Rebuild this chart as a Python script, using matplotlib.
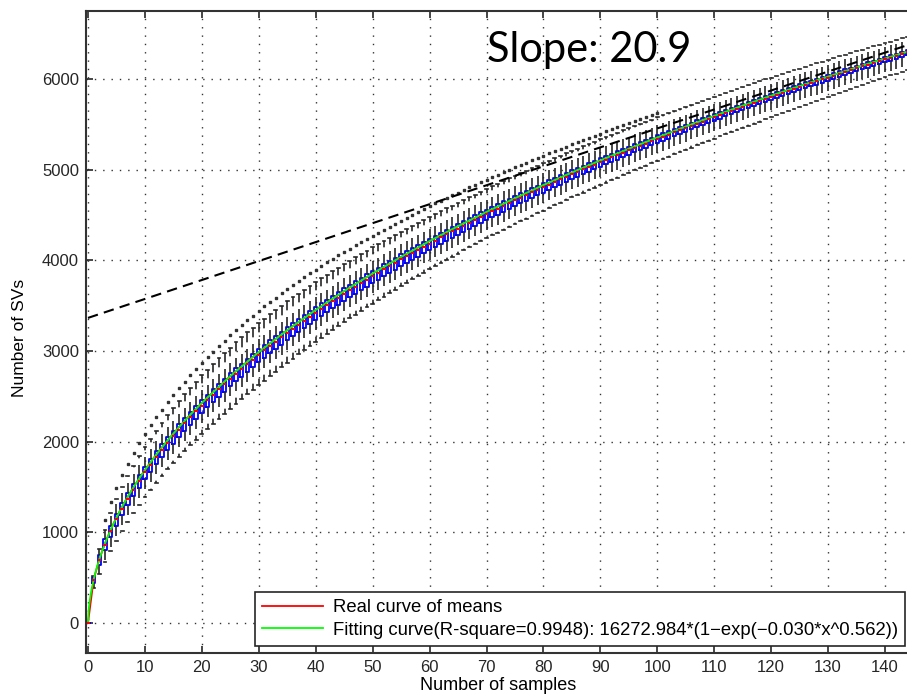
import numpy as np
import matplotlib.pyplot as plt

# number of samples drawn (box positions)
n_samples = list(range(145))

# mean number of SVs at each sample size (red curve, box centres)
sv_mean = [0,
           481, 705, 880, 1030, 1163, 1283, 1394, 1497, 1595, 1687,
           1774, 1858, 1938, 2015, 2089, 2162, 2231, 2299, 2364, 2428,
           2489, 2549, 2608, 2666, 2723, 2778, 2832, 2885, 2937, 2988,
           3038, 3087, 3135, 3183, 3230, 3276, 3321, 3366, 3410, 3453,
           3495, 3537, 3579, 3620, 3661, 3701, 3740, 3779, 3817, 3855,
           3892, 3929, 3966, 4002, 4038, 4073, 4108, 4143, 4178, 4212,
           4245, 4278, 4311, 4344, 4377, 4409, 4440, 4472, 4503, 4534,
           4564, 4594, 4625, 4655, 4685, 4714, 4743, 4772, 4801, 4830,
           4858, 4886, 4914, 4941, 4969, 4996, 5022, 5049, 5075, 5102,
           5128, 5154, 5179, 5205, 5231, 5256, 5280, 5305, 5330, 5355,
           5379, 5403, 5428, 5452, 5476, 5499, 5523, 5546, 5570, 5593,
           5616, 5638, 5661, 5683, 5706, 5728, 5750, 5772, 5794, 5816,
           5837, 5858, 5880, 5901, 5922, 5943, 5964, 5984, 6005, 6026,
           6046, 6067, 6087, 6108, 6128, 6147, 6167, 6186, 6206, 6225,
           6245, 6264, 6284, 6303]

# upper whisker end, above the mean
whisk_up = [0,
            40, 110, 150, 180, 200, 215, 228, 238, 246, 252,
            258, 264, 270, 275, 280, 285, 290, 294, 298, 302,
            305, 308, 311, 313, 315, 317, 318, 319, 320, 320,
            320, 319, 318, 317, 316, 315, 313, 311, 309, 307,
            305, 303, 301, 299, 297, 295, 293, 291, 289, 287,
            285, 283, 281, 279, 277, 275, 273, 271, 269, 267,
            265, 263, 261, 259, 257, 256, 255, 254, 253, 252,
            251, 250, 249, 248, 247, 246, 245, 244, 243, 242,
            241, 240, 239, 238, 237, 236, 235, 234, 233, 232,
            231, 230, 229, 228, 227, 226, 225, 224, 223, 222,
            221, 220, 219, 218, 217, 216, 215, 214, 213, 212,
            211, 210, 208, 207, 206, 205, 203, 202, 201, 200,
            199, 197, 196, 195, 193, 192, 191, 189, 188, 186,
            185, 183, 182, 180, 178, 177, 175, 173, 171, 169,
            167, 165, 163, 161]

# lower whisker end, below the mean
whisk_down = [0,
              90, 170, 210, 235, 255, 268, 278, 287, 294, 300,
              306, 312, 317, 322, 327, 331, 335, 339, 343, 346,
              349, 352, 354, 356, 358, 360, 361, 362, 363, 364,
              364, 364, 363, 362, 361, 360, 358, 356, 354, 352,
              350, 348, 346, 344, 342, 340, 338, 336, 334, 332,
              330, 328, 326, 324, 322, 320, 318, 316, 314, 312,
              310, 308, 306, 304, 302, 300, 298, 296, 294, 292,
              290, 289, 288, 287, 286, 285, 284, 283, 282, 281,
              280, 279, 278, 277, 276, 275, 274, 273, 272, 271,
              270, 269, 268, 267, 266, 265, 264, 263, 262, 261,
              260, 259, 258, 257, 256, 255, 254, 253, 252, 251,
              250, 249, 247, 246, 245, 244, 242, 241, 240, 239,
              238, 236, 235, 234, 232, 231, 230, 228, 227, 225,
              224, 222, 221, 219, 217, 216, 214, 212, 210, 208,
              206, 204, 202, 200]

# upper quartile, above the mean
box_up = [0,
          30, 45, 45, 42, 40, 40, 38, 36, 35, 35,
          34, 34, 33, 33, 32, 32, 32, 31, 31, 31,
          30, 30, 30, 30, 30, 30, 30, 30, 30, 30,
          30, 30, 30, 30, 30, 30, 30, 30, 30, 30,
          30, 30, 29, 29, 29, 29, 29, 28, 28, 28,
          28, 28, 28, 27, 27, 27, 27, 27, 26, 26,
          26, 26, 26, 25, 25, 25, 25, 25, 25, 25,
          25, 25, 24, 24, 24, 24, 24, 24, 24, 24,
          24, 23, 23, 23, 23, 23, 23, 23, 23, 23,
          22, 22, 22, 22, 22, 22, 22, 22, 22, 22,
          21, 21, 21, 21, 21, 21, 21, 21, 21, 21,
          20, 20, 20, 20, 20, 20, 20, 20, 20, 20,
          20, 20, 19, 19, 19, 19, 19, 19, 19, 19,
          18, 18, 18, 18, 18, 18, 17, 17, 17, 17,
          17, 17, 16, 16]

# lower quartile, below the mean
box_down = [0,
            40, 60, 75, 85, 90, 95, 98, 100, 102, 104,
            106, 107, 108, 109, 110, 110, 111, 111, 112, 112,
            112, 113, 113, 113, 113, 114, 114, 114, 114, 114,
            114, 114, 114, 113, 113, 113, 113, 112, 112, 112,
            111, 111, 110, 110, 109, 109, 108, 108, 107, 107,
            106, 106, 105, 105, 104, 104, 103, 103, 102, 102,
            101, 100, 99, 98, 97, 96, 95, 94, 93, 92,
            91, 90, 89, 88, 87, 86, 85, 84, 83, 82,
            81, 80, 79, 78, 77, 76, 75, 74, 73, 72,
            71, 70, 69, 68, 67, 66, 65, 64, 63, 62,
            61, 60, 59, 58, 57, 56, 55, 54, 53, 52,
            52, 51, 51, 50, 50, 50, 49, 49, 48, 48,
            48, 47, 47, 46, 46, 46, 45, 45, 45, 44,
            44, 44, 43, 43, 43, 42, 42, 42, 41, 41,
            41, 40, 40, 40]

# median minus mean
med_shift = [0,
             -5, -10, -15, -18, -20, -22, -24, -25, -26, -27,
             -28, -28, -29, -29, -30, -30, -30, -31, -31, -31,
             -32, -32, -32, -32, -32, -32, -32, -32, -32, -32,
             -32, -32, -32, -32, -32, -31, -31, -31, -31, -31,
             -31, -30, -30, -30, -30, -30, -30, -29, -29, -29,
             -29, -29, -28, -28, -28, -28, -28, -27, -27, -27,
             -27, -26, -26, -26, -26, -25, -25, -25, -25, -24,
             -24, -24, -24, -23, -23, -23, -23, -22, -22, -22,
             -22, -21, -21, -21, -21, -20, -20, -20, -20, -19,
             -19, -19, -19, -18, -18, -18, -18, -17, -17, -17,
             -17, -16, -16, -16, -16, -15, -15, -15, -15, -14,
             -14, -14, -14, -13, -13, -13, -13, -12, -12, -12,
             -12, -11, -11, -11, -11, -10, -10, -10, -10, -10,
             -10, -10, -9, -9, -9, -9, -9, -9, -9, -9,
             -8, -8, -8, -8]

# outlier above each box, above the mean (None = no outlier)
flier_up = [None, None, None,
            260, 300, 330, 350, 365, 380, 390, 400,
            405, 410, 415, 420, 425, 428, 431, 434, 437, 440,
            442, 444, 446, 448, 450, 451, 452, 453, 454, 455,
            455, 455, 454, 453, 452, 451, 450, 448, 446, 444,
            442, 440, 437, 434, 431, 428, 425, 422, 419, 416,
            413, 410, 407, 404, 401, 398, 395, 392, 389, 386,
            383, 380, 377, 374, 371, 368, 365, 362, 359, 356,
            353, 350, 347, 344, 341, 338, 335, 332, 329, 326,
            323, 320, 317, 314, 311, 308, 305, 302, 299, 296,
            293, 290, 287, 284, 281, 278, 275, 272, 269, 266] + [None] * 44

# fitted curve 16272.984*(1-exp(-0.030*x^0.562))
fit_x = [0, 0.1, 0.3, 0.6, 1, 1.5, 2, 3, 4, 5, 6, 7, 8, 9, 10, 12, 14, 16, 18,
         20, 25, 30, 35, 40, 45, 50, 55, 60, 65, 70, 75, 80, 85, 90, 95, 100,
         105, 110, 115, 120, 125, 130, 135, 140, 145]
fit_y = [0, 133, 246, 362, 481, 602, 705, 880, 1030, 1163, 1283, 1394, 1497,
         1595, 1687, 1858, 2015, 2162, 2299, 2428, 2723, 2988, 3230, 3453, 3661,
         3855, 4038, 4212, 4377, 4534, 4685, 4830, 4969, 5102, 5231, 5355, 5476,
         5593, 5706, 5816, 5922, 6026, 6128, 6225, 6322]

# tangent line, slope 20.9
slope_x = [0, 150]
slope_y = [3365, 6500]

x_ticks = list(range(0, 150, 10))
y_ticks = list(range(0, 7000, 1000))

plt.rcParams['font.family'] = ['Liberation Sans', 'DejaVu Sans']

fig = plt.figure(figsize=(9.07, 6.94), dpi=100)
ax = fig.add_axes([86 / 907, 41 / 694, 821 / 907, 642 / 694])

stats = []
for m, wu, wd, bu, bd, ms, fl in zip(sv_mean, whisk_up, whisk_down, box_up,
                                     box_down, med_shift, flier_up):
    stats.append({'med': m + ms, 'q1': m - bd, 'q3': m + bu,
                  'whislo': m - wd, 'whishi': m + wu,
                  'fliers': [] if fl is None else [m + fl]})

ax.bxp(stats, positions=n_samples, widths=0.6, showfliers=True,
       boxprops=dict(color='blue', lw=1.3),
       medianprops=dict(color='red', lw=1.5),
       whiskerprops=dict(color='0.15', lw=1.2, linestyle=(0, (6, 4))),
       capprops=dict(color='0.15', lw=1.2), capwidths=0.5,
       flierprops=dict(marker='s', markersize=1.8, markerfacecolor='0.2',
                       markeredgecolor='0.2', linestyle='none'),
       manage_ticks=False)

l1, = ax.plot(n_samples, sv_mean, color='red', lw=1.3, label='Real curve of means')
l2, = ax.plot(fit_x, fit_y, color='#00ff00', lw=1.3,
              label='Fitting curve(R-square=0.9948): 16272.984*(1\u2212exp(\u22120.030*x^0.562))')
ax.plot(slope_x, slope_y, color='black', lw=1.5, dashes=(5, 3))

ax.set_xlim(-0.35, 143.86)
ax.set_ylim(-331, 6750)
ax.set_xticks(x_ticks)
ax.set_yticks(y_ticks)
ax.tick_params(direction='in', length=5, width=1.2, labelsize=12, colors='0.15',
               top=True, right=False, pad=5)
ax.grid(True, color='0.2', lw=1.0, linestyle=(0, (1, 5)))
ax.set_axisbelow(True)
for side in ['left', 'bottom', 'top']:
    ax.spines[side].set_linewidth(1.5)
    ax.spines[side].set_color('0.2')
ax.spines['right'].set_visible(False)

fig.text(20 / 907, 1 - 338 / 694, 'Number of SVs', rotation=90, ha='center', va='center', fontsize=12.5)
fig.text(498 / 907, 1 - 686 / 694, 'Number of samples', ha='center', va='center', fontsize=13)

fig.text(487 / 907, 1 - 50 / 694, 'Slope: 20.9', ha='left', va='center', fontsize=30,
         family=['Lato', 'DejaVu Sans'])

leg = ax.legend(handles=[l1, l2], loc='upper left', bbox_to_anchor=(255 / 907, 1 - 592 / 694),
                bbox_transform=fig.transFigure, borderaxespad=0, fontsize=13.3,
                handlelength=3.3, handletextpad=0.5, labelspacing=0.28, borderpad=0.4,
                fancybox=False, framealpha=1, edgecolor='0.15')
leg.get_frame().set_linewidth(1.2)

fig.savefig('out.png', dpi=100)
